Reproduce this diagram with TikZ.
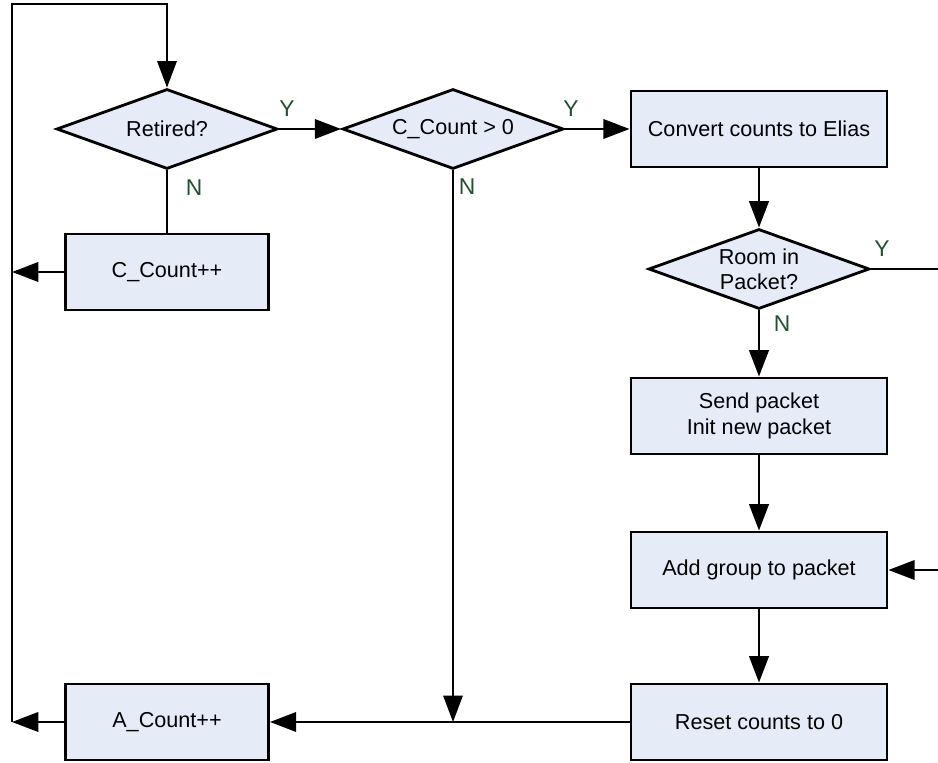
\documentclass[tikz,border=0pt]{standalone}
\usepackage{fontspec}
\setmainfont{Liberation Sans}
\usepackage{xcolor}
\usepackage{tikz}
\usetikzlibrary{shapes,arrows,positioning,calc,arrows.meta}

\definecolor{boxfill}{RGB}{230,236,247}
\definecolor{yngreen}{RGB}{32,82,48}

\begin{document}
\begin{tikzpicture}[
    x=0.02cm, y=-0.02cm,
    procbox/.style={rectangle, draw, line width=1.6pt, fill=boxfill, minimum width=4.06cm, minimum height=1.52cm, font=\fontsize{12.3}{14.5}\selectfont, align=center},
    widebox/.style={procbox, minimum width=5.12cm},
    decision/.style={diamond, aspect=2.72, draw, line width=1.6pt, fill=boxfill, inner sep=0pt, minimum width=4.42cm, minimum height=1.6cm, font=\fontsize{12.3}{14}\selectfont, align=center},
    flow/.style={line width=1.6pt, -{Triangle[length=15pt,width=11pt]}},
    thinflow/.style={line width=1.1pt, -{Triangle[length=15pt,width=11pt]}},
    plain/.style={line width=1.6pt},
    thinplain/.style={line width=1.1pt},
    yn/.style={text=yngreen, font=\fontsize{13}{15}\selectfont, inner sep=0pt}
]
    \useasboundingbox (0,0) rectangle (938,763);

    % decisions and steps
    \node[decision] (retired) at (167,129) {Retired?};
    \node[decision] (ccheck) at (453,129) {C\_Count > 0};
    \node[widebox] (convert) at (759,129) {Convert counts to Elias};
    \node[decision] (room) at (759,269) {Room in\\Packet?};
    \node[widebox] (send) at (759,416) {Send packet\\Init new packet};
    \node[widebox] (addgrp) at (759,570) {Add group to packet};
    \node[widebox] (reset) at (759,722) {Reset counts to 0};
    \node[procbox] (cinc) at (167,272) {C\_Count++};
    \node[procbox] (ainc) at (167,722) {A\_Count++};

    % Y / N labels
    \node[yn] (retY) at (287,109) {Y};
    \node[yn] (retN) at (194,188) {N};
    \node[yn] (ccY) at (571,109) {Y};
    \node[yn] (ccN) at (467,187) {N};
    \node[yn] (roomY) at (882,249) {Y};
    \node[yn] (roomN) at (782,324) {N};

    % free ends
    \coordinate (railtop) at (12,4);
    \coordinate (railbot) at (12,722);
    \coordinate (merge) at (453,722);
    \coordinate (roomout) at (938,269);
    \coordinate (addin) at (938,570);

    % connectors
    \draw[thinflow] (railbot) -- (railtop) -| (retired.north);
    \draw[flow] (retired.east) -- (ccheck.west);
    \draw[plain] (retired.south) -- (cinc.north);
    \draw[flow] (cinc.west) -- (cinc.west -| railtop);
    \draw[flow] (ccheck.east) -- (convert.west);
    \draw[thinflow] (ccheck.south) -- (merge);
    \draw[flow] (convert.south) -- (room.north);
    \draw[thinplain] (room.east) -- (roomout);
    \draw[flow] (room.south) -- (send.north);
    \draw[flow] (send.south) -- (addgrp.north);
    \draw[flow] (addin) -- (addgrp.east);
    \draw[flow] (addgrp.south) -- (reset.north);
    \draw[flow] (reset.west) -- (ainc.east);
    \draw[flow] (ainc.west) -- (ainc.west -| railtop);
\end{tikzpicture}
\end{document}
